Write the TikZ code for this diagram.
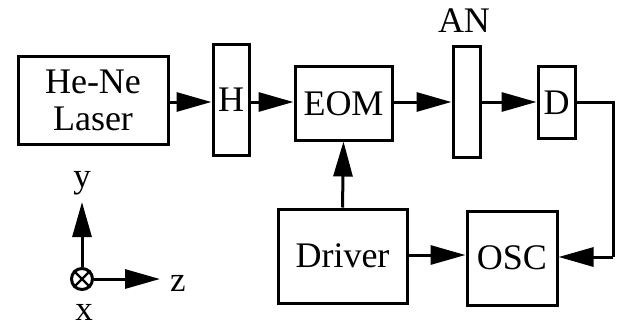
\documentclass[tikz,border=0pt]{standalone}
\usepackage{fontspec}
\setmainfont{Liberation Serif}
\usetikzlibrary{arrows.meta}
\begin{document}
\begin{tikzpicture}[x=1pt,y=-1pt,
  box/.style={draw, line width=3pt, rectangle, inner sep=0pt, font=\fontsize{36}{37}\selectfont},
  conn/.style={line width=3pt, -{Triangle[length=35pt,width=19pt]}},
  wire/.style={line width=3pt},
  axlab/.style={font=\fontsize{35}{37}\selectfont, inner sep=0pt}]
\useasboundingbox (0,0) rectangle (621,329);
\node[box, minimum width=150pt, minimum height=87pt, align=center] (laser) at (93,100.5) {He-Ne\\Laser};
\node[box, minimum width=36pt, minimum height=110pt] (h) at (231,100) {H};
\node[box, minimum width=97pt, minimum height=73pt] (eom) at (343.5,103.5) {EOM};
\node[box, minimum width=27pt, minimum height=110pt] (an) at (466.5,102) {};
\node[font=\fontsize{36}{37}\selectfont, inner sep=0pt] (anlab) at (464,21) {AN};
\node[box, minimum width=37pt, minimum height=71pt] (d) at (556.5,102.5) {D};
\node[box, minimum width=129pt, minimum height=94pt] (drv) at (342.5,256) {Driver};
\node[box, minimum width=90pt, minimum height=94pt] (osc) at (512,258) {OSC};
\coordinate (c1) at (613,102);
\coordinate (c2) at (613,257);
\draw[conn] (laser.east |- 0,102) -- (h.west |- 0,102);
\draw[conn] (h.east |- 0,102) -- (eom.west |- 0,102);
\draw[conn] (eom.east |- 0,102) -- (an.west |- 0,102);
\draw[conn] (an.east |- 0,102) -- (d.west |- 0,102);
\draw[wire] (d.east |- 0,102) -- (c1) -- (c2);
\draw[conn] (c2) -- (osc.east |- c2);
\draw[conn] (drv.east |- 0,255) -- (osc.west |- 0,255);
\draw[conn] (drv.north) -- (eom.south);
% axes
\node[draw, circle, line width=3pt, minimum size=21pt, inner sep=0pt] (o) at (82,279) {};
\draw[line width=2.2pt] (o.north east) -- (o.south west) (o.north west) -- (o.south east);
\coordinate (ytip) at (82,202);
\coordinate (ztip) at (160,279);
\draw[conn] (o.north) -- (ytip);
\draw[conn] (o.east) -- (ztip);
\node[axlab] (ylab) at (82,183) {y};
\node[axlab] (zlab) at (178,283) {z};
\node[axlab] (xlab) at (84,312) {x};
\end{tikzpicture}
\end{document}
